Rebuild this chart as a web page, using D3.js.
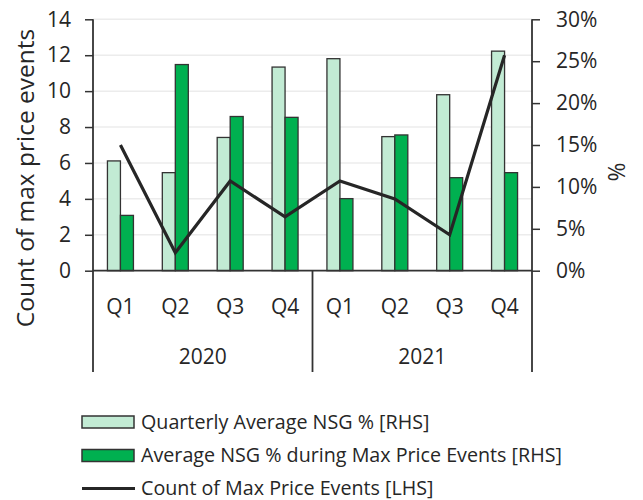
<!DOCTYPE html>
<html>
<head>
<meta charset="utf-8">
<script src="https://cdn.jsdelivr.net/npm/d3@7"></script>
<style>
  html, body { margin: 0; padding: 0; background: #fff; }
  svg { display: block; font-family: "Open Sans", "Noto Sans", sans-serif; }
</style>
</head>
<body>
<svg id="chart" width="643" height="500"></svg>
<script>
// Quarters grouped by year
const years = ["2020", "2021"];
const quarters = ["Q1", "Q2", "Q3", "Q4"];
const categories = ["2020-Q1", "2020-Q2", "2020-Q3", "2020-Q4", "2021-Q1", "2021-Q2", "2021-Q3", "2021-Q4"];

// Series (percentages on the right axis, counts on the left axis)
const quarterlyAvgNSG = [13.1, 11.7, 15.9, 24.3, 25.3, 16.0, 21.0, 26.2];
const maxEventAvgNSG  = [6.6, 24.6, 18.4, 18.3, 8.6, 16.2, 11.1, 11.7];
const maxEventCount   = [7, 1, 5, 3, 5, 4, 2, 12];

const leftTicks  = [0, 2, 4, 6, 8, 10, 12, 14];
const rightTicks = [0, 5, 10, 15, 20, 25, 30];

const seriesNames = [
  "Quarterly Average NSG % [RHS]",
  "Average NSG % during Max Price Events [RHS]",
  "Count of Max Price Events [LHS]"
];

const colLight = "#c2ebd4";
const colDark = "#00b050";
const colEdge = "#333333";
const colLine = "#262626";
const colText = "#262626";

const svg = d3.select("#chart");
const plotL = 93, plotR = 532, plotT = 19.3, plotB = 270.7, axisBottom = 372;

const x = d3.scaleBand().domain(categories).range([plotL, plotR]).padding(0);
const yL = d3.scaleLinear().domain([0, 14]).range([plotB, plotT]);
const yR = d3.scaleLinear().domain([0, 30]).range([plotB, plotT]);

// Gridlines
svg.append("g").selectAll("line").data(leftTicks.filter(d => d > 0)).join("line")
  .attr("x1", plotL).attr("x2", plotR)
  .attr("y1", d => yL(d)).attr("y2", d => yL(d))
  .attr("stroke", "#ececec").attr("stroke-width", 1.5);

// Bars
const barW = 13;
const bars = svg.append("g");
bars.selectAll("rect.light").data(categories).join("rect")
  .attr("class", "light")
  .attr("x", d => x(d) + x.bandwidth() / 2 - barW)
  .attr("y", (d, i) => yR(quarterlyAvgNSG[i]))
  .attr("width", barW)
  .attr("height", (d, i) => yR(0) - yR(quarterlyAvgNSG[i]))
  .attr("fill", colLight).attr("stroke", colEdge).attr("stroke-width", 1.3);
bars.selectAll("rect.dark").data(categories).join("rect")
  .attr("class", "dark")
  .attr("x", d => x(d) + x.bandwidth() / 2)
  .attr("y", (d, i) => yR(maxEventAvgNSG[i]))
  .attr("width", barW)
  .attr("height", (d, i) => yR(0) - yR(maxEventAvgNSG[i]))
  .attr("fill", colDark).attr("stroke", colEdge).attr("stroke-width", 1.3);

// Line
const line = d3.line()
  .x((d, i) => x(categories[i]) + x.bandwidth() / 2)
  .y(d => yL(d));
svg.append("path").datum(maxEventCount)
  .attr("d", line)
  .attr("fill", "none").attr("stroke", colLine).attr("stroke-width", 3.2)
  .attr("stroke-linejoin", "miter");

// Left axis
const axL = svg.append("g").attr("transform", `translate(${plotL},0)`)
  .call(d3.axisLeft(yL).tickValues(leftTicks).tickSize(8).tickPadding(14));
// Right axis
const axR = svg.append("g").attr("transform", `translate(${plotR},0)`)
  .call(d3.axisRight(yR).tickValues(rightTicks).tickSize(8).tickPadding(16).tickFormat(d => d + "%"));
[axL, axR].forEach(ax => {
  ax.select(".domain").remove();
  ax.selectAll(".tick line").attr("stroke", colEdge).attr("stroke-width", 1.5);
  ax.selectAll(".tick text").attr("fill", colText).attr("font-size", 21)
    .attr("font-family", "'Open Sans', sans-serif");
});

// Axis spines extending down through the category area
const spine = svg.append("g").attr("stroke", colEdge).attr("stroke-width", 1.8);
spine.append("line").attr("x1", plotL).attr("x2", plotL).attr("y1", plotT).attr("y2", axisBottom);
spine.append("line").attr("x1", plotR).attr("x2", plotR).attr("y1", plotT).attr("y2", axisBottom);
spine.append("line").attr("x1", plotL).attr("x2", plotR).attr("y1", plotB).attr("y2", plotB);
// Year separator
spine.append("line")
  .attr("x1", x(categories[4])).attr("x2", x(categories[4]))
  .attr("y1", plotB).attr("y2", axisBottom);

// Quarter labels
svg.append("g").selectAll("text").data(categories).join("text")
  .attr("x", d => x(d) + x.bandwidth() / 2)
  .attr("y", 307)
  .attr("dy", "0.35em")
  .attr("text-anchor", "middle")
  .attr("font-size", 21).attr("fill", colText)
  .text(d => d.split("-")[1]);

// Year labels
svg.append("g").selectAll("text").data(years).join("text")
  .attr("x", (d, i) => (x(categories[i * 4]) + x(categories[i * 4 + 3]) + x.bandwidth()) / 2)
  .attr("y", 357)
  .attr("dy", "0.35em")
  .attr("text-anchor", "middle")
  .attr("font-size", 21).attr("fill", colText)
  .text(d => d);

// Axis titles
svg.append("text")
  .attr("transform", "translate(25,178) rotate(-90)")
  .attr("text-anchor", "middle").attr("dy", "0.35em")
  .attr("font-size", 24.5).attr("fill", colText)
  .text("Count of max price events");
svg.append("text")
  .attr("transform", "translate(617,172) rotate(-90)")
  .attr("text-anchor", "middle").attr("dy", "0.35em")
  .attr("font-size", 23).attr("fill", colText)
  .text("%");

// Legend
const legendY = [422, 455.5, 488.5];
const lg = svg.append("g");
seriesNames.forEach((name, i) => {
  const g = lg.append("g").attr("transform", `translate(82,${legendY[i]})`);
  if (i < 2) {
    g.append("rect").attr("x", 0).attr("y", -6).attr("width", 52).attr("height", 12)
      .attr("fill", i === 0 ? colLight : colDark)
      .attr("stroke", colEdge).attr("stroke-width", 1.5);
  } else {
    g.append("line").attr("x1", 0).attr("x2", 53).attr("y1", 0).attr("y2", 0)
      .attr("stroke", colLine).attr("stroke-width", 3.2);
  }
  g.append("text").attr("x", 59).attr("y", 0).attr("dy", "0.35em")
    .attr("font-size", 19.7).attr("fill", colText).text(name);
});
</script>
</body>
</html>
